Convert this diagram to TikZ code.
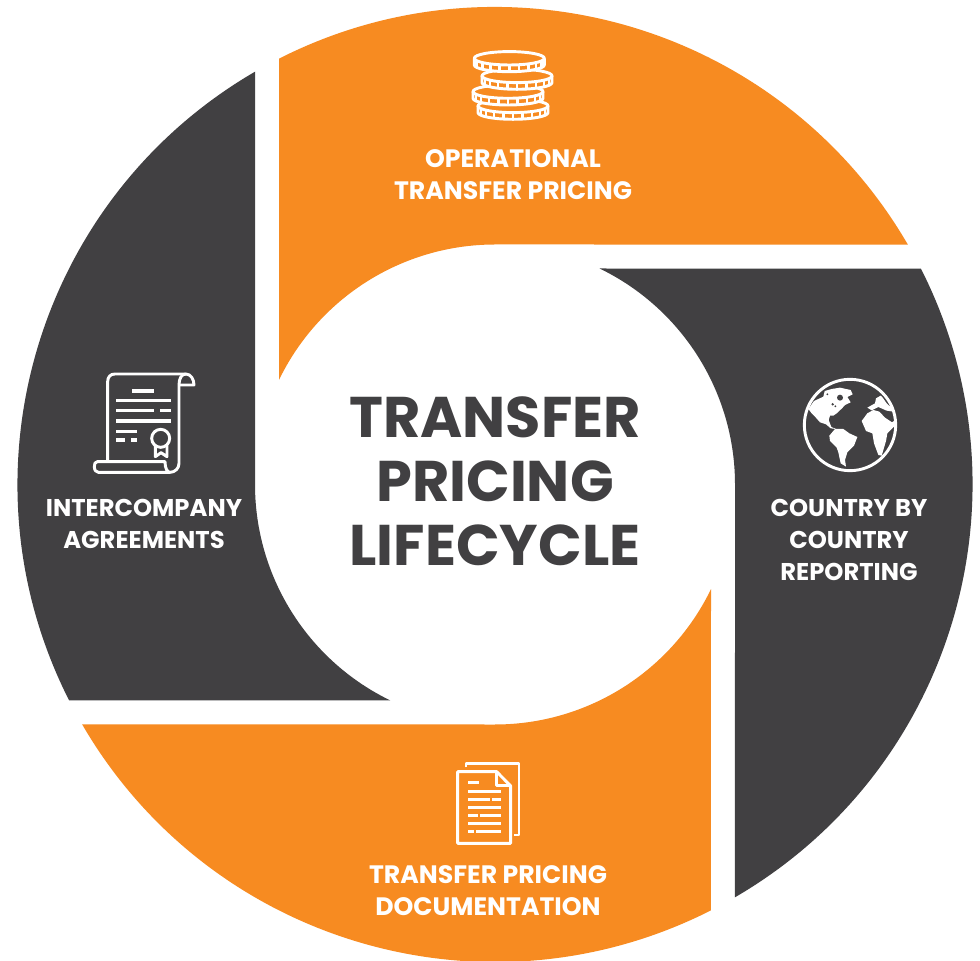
\documentclass[tikz,border=0pt]{standalone}
\usepackage{fontspec}
\setmainfont{Poppins}
\definecolor{ringorange}{HTML}{F78B21}
\definecolor{ringdark}{HTML}{414042}
\tikzset{
  small label/.style={text=white,font=\bfseries\fontsize{18.2}{24}\selectfont,align=center,inner sep=0pt},
  wide label/.style={text=white,font=\bfseries\fontsize{18.9}{24}\selectfont,align=center,inner sep=0pt},
  big label/.style={text=ringdark,font=\bfseries\fontsize{43}{48}\selectfont,align=center,inner sep=0pt},
  icon line/.style={draw=white,line width=2.2pt,line join=round},
  icon bar/.style={draw=white,line width=2.7pt},
  icon px/.style={shift={(0,960)},y=-.75pt},
  seg/.style={shift={(495,475.5)},rotate=#1}
}
\newcommand{\segment}{(30.17:477.5) arc (30.17:116.88:477.5) -- (154.16:240) arc (154.16:90:240) -- cycle}
\newcommand{\coin}[2]{%
  \fill[ringorange] (#1-35,#2) -- (#1-35,#2+6.7) arc (180:0:35 and 6.7) -- (#1+35,#2) arc (0:180:35 and 6.7) -- cycle;
  \fill[ringorange] (#1,#2+6.7) ellipse (35 and 6.7);
  \draw[icon line] (#1,#2) ellipse (35 and 6.7);
  \draw[icon line] (#1-35,#2) -- (#1-35,#2+6.7) arc (180:0:35 and 6.7) -- (#1+35,#2);
  \foreach \t in {157,140,123,106,90,74,57,40,23}{
    \draw[white,line width=1.9pt] ({#1+35*cos(\t)},{#2+6.7*sin(\t)}) -- ++(0,6.7);
  }
}
\begin{document}
\begin{tikzpicture}[x=.75pt,y=.75pt]
\useasboundingbox (0,0) rectangle (980,960);
\fill[white] (0,0) rectangle (980,960);
% ring
\fill[ringorange,seg=0] \segment;
\fill[ringdark,seg=-90] \segment;
\fill[ringorange,seg=-180] \segment;
\fill[ringdark,seg=-270] \segment;
% labels
\begin{scope}[icon px]
\node[big label] (title) at (495,481) {TRANSFER\\PRICING\\LIFECYCLE};
\node[wide label] (op) at (513,175) {OPERATIONAL\\TRANSFER PRICING};
\node[small label] (ic) at (144,524) {INTERCOMPANY\\AGREEMENTS};
\node[small label] (cbc) at (849,540) {COUNTRY BY\\COUNTRY\\REPORTING};
\node[wide label] (doc) at (488,891) {TRANSFER PRICING\\DOCUMENTATION};
% coins
\coin{513}{105.9}
\coin{508}{91.6}
\coin{517}{75.9}
\coin{509.3}{58.3}
\end{scope}
% scroll
\begin{scope}[icon px,shift={(80,360)},x=.25pt,y=-.25pt]
  \draw[icon line] (83,305) -- (83,65) .. controls (83,50) and (92,42) .. (105,42) -- (318,42) .. controls (332,42) and (342,58) .. (342,75) -- (297,75);
  \draw[icon line] (318,42) .. controls (305,42) and (297,55) .. (297,75) -- (297,310) .. controls (297,325) and (285,337) .. (270,337) -- (55,337) .. controls (48,337) and (43,330) .. (43,320) .. controls (43,312) and (45,305) .. (52,305) -- (255,305) .. controls (255,325) and (262,337) .. (270,337);
  \foreach \ya/\xa/\xb in {93/156/222,122/108/273,152/108/222,152/240/273,183/108/273,215/108/171,240/108/135,240/153/171}{
    \draw[icon bar] (\xa,\ya) -- (\xb,\ya);
  }
  \draw[icon line] (242,235) circle (27);
  \draw[icon line] (226,258) -- (226,290) -- (243,278) -- (261,290) -- (261,258);
\end{scope}
% document
\begin{scope}[icon px,shift={(440,750)},x=.25pt,y=-.25pt]
  \draw[icon line] (53,65) -- (170,65) -- (212,108) -- (212,280) -- (53,280) -- cycle;
  \draw[icon line] (170,65) -- (170,106) -- (212,106);
  \draw[icon line] (78,52) -- (78,40) -- (237,40) -- (237,255) -- (222,255);
  \foreach \ya/\xa/\xb in {97/85/117,124/85/183,148/85/150,148/157/183,172/85/183,196/85/114,196/120/183,220/85/183,244/85/102,244/108/183}{
    \draw[icon bar,line width=2.2pt] (\xa,\ya) -- (\xb,\ya);
  }
\end{scope}
% globe
\begin{scope}[icon px,shift={(790,365)},x=.25pt,y=-.25pt]
  \draw[white,line width=2.2pt] (180,180) circle (137);
  % North America
  \fill[white] (55,132) -- (72,108) -- (100,95) -- (104,78) -- (125,72) -- (150,68) -- (182,75) -- (188,88) -- (172,96) -- (182,112) -- (165,120) -- (156,130) -- (140,145) -- (130,152) -- (120,152) -- (116,165) -- (124,186) -- (138,192) -- (122,190) -- (108,178) -- (90,172) -- (75,155) -- (65,145) -- cycle;
  \fill[ringdark] (150,98) circle (9) (128,118) circle (4) (136,124) circle (3) (112,88) circle (3);
  % South America
  \fill[white] (118,212) -- (135,192) -- (160,192) -- (178,205) -- (202,216) -- (192,242) -- (172,262) -- (165,285) -- (168,305) -- (152,295) -- (145,262) -- (140,248) -- (120,228) -- cycle;
  % Africa
  \fill[white] (215,168) -- (232,145) -- (250,135) -- (268,140) -- (285,158) -- (306,172) -- (316,165) -- (312,185) -- (292,205) -- (288,228) -- (275,272) -- (265,270) -- (252,235) -- (247,205) -- (228,198) -- cycle;
  % Europe and Asia edge
  \fill[white] (232,128) -- (255,115) -- (258,100) -- (272,92) -- (278,98) -- (290,115) -- (306,130) -- (310,140) -- (290,137) -- (265,126) -- (245,136) -- cycle;
\end{scope}
\end{tikzpicture}
\end{document}
